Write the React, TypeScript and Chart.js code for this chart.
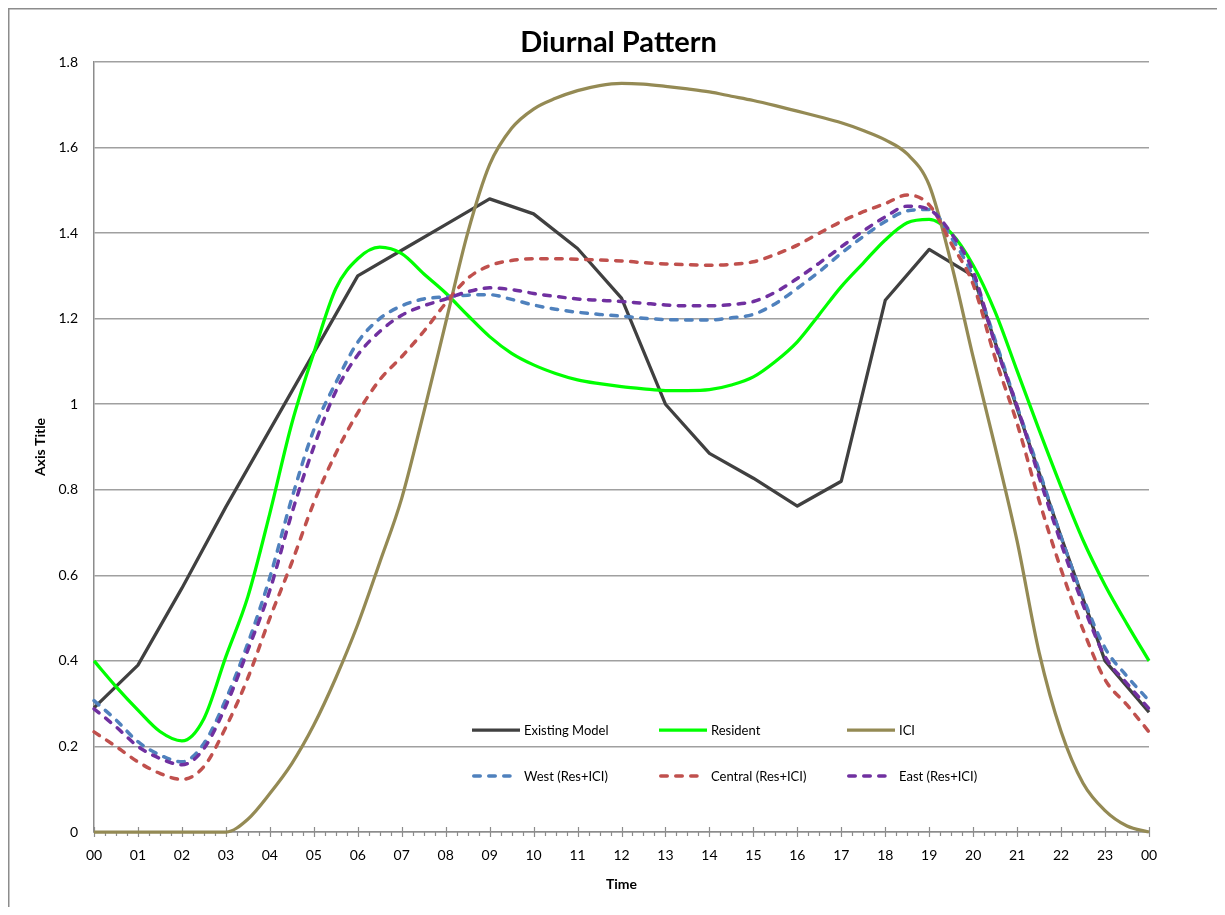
import React, { useEffect, useRef } from 'react';
import { Chart, registerables } from 'chart.js';

Chart.register(...registerables);

// ---------- data ----------
const hourTicks = [0, 1, 2, 3, 4, 5, 6, 7, 8, 9, 10, 11, 12, 13, 14, 15, 16, 17, 18, 19, 20, 21, 22, 23, 24];
const timeLabels = ['00', '01', '02', '03', '04', '05', '06', '07', '08', '09', '10', '11', '12', '13', '14', '15', '16', '17', '18', '19', '20', '21', '22', '23', '00'];
const halfHours = [0, 0.5, 1, 1.5, 2, 2.5, 3, 3.5, 4, 4.5, 5, 5.5, 6, 6.5, 7, 7.5, 8, 8.5, 9, 9.5, 10, 10.5, 11, 11.5, 12, 12.5, 13, 13.5, 14, 14.5, 15, 15.5, 16, 16.5, 17, 17.5, 18, 18.5, 19, 19.5, 20, 20.5, 21, 21.5, 22, 22.5, 23, 23.5, 24];
const yTickLabels = ['0', '0.2', '0.4', '0.6', '0.8', '1', '1.2', '1.4', '1.6', '1.8'];

const existingModel = [0.29, 0.39, 0.57, 0.76, 0.94, 1.12, 1.30, 1.36, 1.42, 1.48, 1.445, 1.364, 1.248, 1.0, 0.885, 0.827, 0.762, 0.82, 1.243, 1.362, 1.30, 0.99, 0.69, 0.40, 0.28];

const resident = [0.40, 0.34, 0.285, 0.235, 0.213, 0.265, 0.41, 0.55, 0.745, 0.955, 1.12, 1.27, 1.34, 1.367, 1.352, 1.305, 1.26, 1.208, 1.158, 1.119, 1.092, 1.072, 1.057, 1.048, 1.041, 1.036, 1.032, 1.032, 1.034, 1.045, 1.064, 1.10, 1.146, 1.21, 1.275, 1.33, 1.384, 1.424, 1.432, 1.40, 1.325, 1.216, 1.078, 0.94, 0.807, 0.682, 0.577, 0.486, 0.40];

const ici = [0, 0, 0, 0, 0, 0, 0, 0.03, 0.09, 0.16, 0.25, 0.36, 0.485, 0.63, 0.78, 0.98, 1.19, 1.40, 1.56, 1.645, 1.69, 1.715, 1.733, 1.745, 1.75, 1.748, 1.743, 1.737, 1.73, 1.72, 1.71, 1.698, 1.685, 1.672, 1.658, 1.64, 1.618, 1.585, 1.512, 1.33, 1.11, 0.90, 0.68, 0.42, 0.235, 0.114, 0.05, 0.014, 0];

const west = [0.307, 0.262, 0.211, 0.18, 0.164, 0.207, 0.31, 0.441, 0.595, 0.78, 0.94, 1.05, 1.145, 1.20, 1.23, 1.246, 1.251, 1.255, 1.256, 1.245, 1.232, 1.222, 1.215, 1.21, 1.206, 1.201, 1.198, 1.197, 1.197, 1.202, 1.21, 1.235, 1.271, 1.31, 1.353, 1.392, 1.427, 1.452, 1.455, 1.39, 1.298, 1.15, 0.995, 0.845, 0.69, 0.548, 0.43, 0.364, 0.307];

const central = [0.234, 0.2, 0.164, 0.137, 0.123, 0.153, 0.245, 0.36, 0.5, 0.63, 0.77, 0.885, 0.98, 1.057, 1.111, 1.17, 1.236, 1.294, 1.324, 1.336, 1.34, 1.34, 1.339, 1.337, 1.335, 1.331, 1.328, 1.326, 1.325, 1.327, 1.333, 1.35, 1.372, 1.40, 1.427, 1.45, 1.469, 1.489, 1.466, 1.376, 1.28, 1.108, 0.955, 0.775, 0.614, 0.473, 0.356, 0.297, 0.234];

const east = [0.288, 0.246, 0.2, 0.172, 0.157, 0.195, 0.295, 0.425, 0.565, 0.745, 0.90, 1.03, 1.115, 1.17, 1.208, 1.23, 1.246, 1.263, 1.272, 1.268, 1.259, 1.252, 1.246, 1.243, 1.24, 1.236, 1.232, 1.23, 1.23, 1.233, 1.24, 1.262, 1.294, 1.33, 1.368, 1.405, 1.438, 1.463, 1.455, 1.40, 1.31, 1.14, 0.995, 0.83, 0.675, 0.531, 0.41, 0.347, 0.288];

const seriesNames = ['Existing Model', 'Resident', 'ICI', 'West (Res+ICI)', 'Central (Res+ICI)', 'East (Res+ICI)'];
const seriesColors = ['#404040', '#00ff00', '#948a54', '#4f81bd', '#c0504d', '#7030a0'];
const chartTitle = 'Diurnal Pattern';

const FONT = 'Lato, "Open Sans", sans-serif';
const GRAY = '#8c8c8c';

const toPoints = (xs: number[], ys: number[]) => xs.map((x, i) => ({ x, y: ys[i] }));

// ---------- plugins ----------
const frameBorder = {
  id: 'frameBorder',
  beforeDraw(chart: any) {
    const { ctx, width, height } = chart;
    ctx.save();
    ctx.fillStyle = '#ffffff';
    ctx.fillRect(0, 0, width, height);
    ctx.fillStyle = GRAY;
    ctx.fillRect(0, 0, 1.5, height);
    ctx.fillRect(0, 0, width, 1.5);
    ctx.restore();
  },
};

const centeredTitle = {
  id: 'centeredTitle',
  afterDraw(chart: any) {
    const { ctx, chartArea: a } = chart;
    ctx.save();
    ctx.font = `bold 29px ${FONT}`;
    ctx.fillStyle = '#000000';
    ctx.textAlign = 'center';
    ctx.textBaseline = 'middle';
    ctx.fillText(chartTitle, (a.left + a.right) / 2 - 3, a.top - 19);
    ctx.restore();
  },
};

const axisTicks = {
  id: 'axisTicks',
  beforeDatasetsDraw(chart: any) {
    const { ctx } = chart;
    const xs = chart.scales.x;
    const yb = chart.chartArea.bottom;
    ctx.save();
    ctx.strokeStyle = GRAY;
    ctx.lineWidth = 1.2;
    ctx.beginPath();
    hourTicks.forEach((h) => {
      const px = Math.round(xs.getPixelForValue(h)) + 0.5;
      ctx.moveTo(px, yb - 5);
      ctx.lineTo(px, yb + 5);
      if (h < 24) {
        [0.25, 0.5, 0.75].forEach((f) => {
          const mx = Math.round(xs.getPixelForValue(h + f)) + 0.5;
          ctx.moveTo(mx, yb);
          ctx.lineTo(mx, yb + 4);
        });
      }
    });
    ctx.stroke();
    ctx.restore();
  },
};

const insideLegend = {
  id: 'insideLegend',
  afterDraw(chart: any) {
    const { ctx, chartArea: a } = chart;
    const colOffsets = [378, 565, 753];
    const rowOffsets = [102, 56];
    ctx.save();
    ctx.font = `13px ${FONT}`;
    ctx.fillStyle = '#000000';
    ctx.textBaseline = 'middle';
    ctx.textAlign = 'left';
    chart.data.datasets.forEach((ds: any, i: number) => {
      const r = Math.floor(i / 3);
      const c = i % 3;
      const x0 = a.left + colOffsets[c];
      const y = a.bottom - rowOffsets[r];
      const dashed = !!ds.borderDash;
      ctx.save();
      ctx.strokeStyle = ds.borderColor;
      ctx.lineWidth = ds.borderWidth;
      ctx.setLineDash(dashed ? ds.borderDash : []);
      ctx.lineCap = dashed ? 'round' : 'butt';
      ctx.beginPath();
      ctx.moveTo(x0 + (dashed ? 1.75 : 0), y);
      ctx.lineTo(x0 + (dashed ? 38 : 48), y);
      ctx.stroke();
      ctx.restore();
      ctx.fillText(ds.label, x0 + 52, y + 0.5);
    });
    ctx.restore();
  },
};

export default function App() {
  const ref = useRef<HTMLCanvasElement | null>(null);

  useEffect(() => {
    if (!ref.current) return;
    const solid = (i: number, ys: number[], xs: number[], smooth: boolean) => ({
      label: seriesNames[i],
      data: toPoints(xs, ys),
      borderColor: seriesColors[i],
      backgroundColor: seriesColors[i],
      borderWidth: 3.25,
      pointRadius: 0,
      fill: false,
      clip: false,
      tension: smooth ? 0.4 : 0,
      cubicInterpolationMode: smooth ? 'monotone' : 'default',
      borderJoinStyle: 'round',
      order: 6 - i,
    });
    const dashed = (i: number, ys: number[]) => ({
      ...solid(i, ys, halfHours, true),
      borderWidth: 3.5,
      borderDash: [6.5, 8.5],
      borderCapStyle: 'round',
    });

    const chart = new Chart(ref.current, {
      type: 'line',
      data: {
        datasets: [
          solid(0, existingModel, hourTicks, false),
          solid(1, resident, halfHours, true),
          solid(2, ici, halfHours, true),
          dashed(3, west),
          dashed(4, central),
          dashed(5, east),
        ] as any,
      },
      options: {
        animation: false,
        responsive: false,
        events: [],
        layout: { padding: { left: 0, right: 74, top: 54, bottom: 0 } },
        plugins: {
          legend: { display: false },
          tooltip: { enabled: false },
          title: { display: false },
        },
        scales: {
          x: {
            type: 'linear',
            min: 0,
            max: 24,
            offset: false,
            afterBuildTicks: (scale: any) => {
              scale.ticks = hourTicks.map((v) => ({ value: v }));
            },
            afterFit: (scale: any) => {
              scale.height = 83;
            },
            ticks: {
              autoSkip: false,
              maxRotation: 0,
              padding: 15,
              color: '#000000',
              font: { family: FONT, size: 14 },
              callback: (_v: any, idx: number) => timeLabels[idx],
            },
            grid: { display: false, drawTicks: false },
            border: { display: true, color: GRAY, width: 1.5 },
            title: {
              display: true,
              text: 'Time',
              color: '#000000',
              font: { family: FONT, size: 14, weight: 'bold', lineHeight: 1.2 },
              padding: { top: 0, bottom: 22.6 },
            },
          },
          y: {
            type: 'linear',
            min: 0,
            max: 1.8,
            afterFit: (scale: any) => {
              scale.width = 86;
            },
            ticks: {
              stepSize: 0.2,
              padding: 16,
              color: '#000000',
              font: { family: FONT, size: 14 },
              callback: (_v: any, idx: number) => yTickLabels[idx],
            },
            grid: { color: '#a0a0a0', lineWidth: 1.5, drawTicks: false },
            border: { display: true, color: GRAY, width: 1.5 },
            title: {
              display: true,
              text: 'Axis Title',
              color: '#000000',
              font: { family: FONT, size: 14, weight: 'bold', lineHeight: 1.2 },
              padding: { top: 23.6, bottom: 0 },
            },
          },
        },
      } as any,
      plugins: [frameBorder, axisTicks, insideLegend, centeredTitle],
    });
    return () => chart.destroy();
  }, []);

  return (
    <div style={{ width: 1215, height: 899, overflow: 'hidden' }}>
      <canvas ref={ref} width={1215} height={907} style={{ display: 'block' }} />
    </div>
  );
}
